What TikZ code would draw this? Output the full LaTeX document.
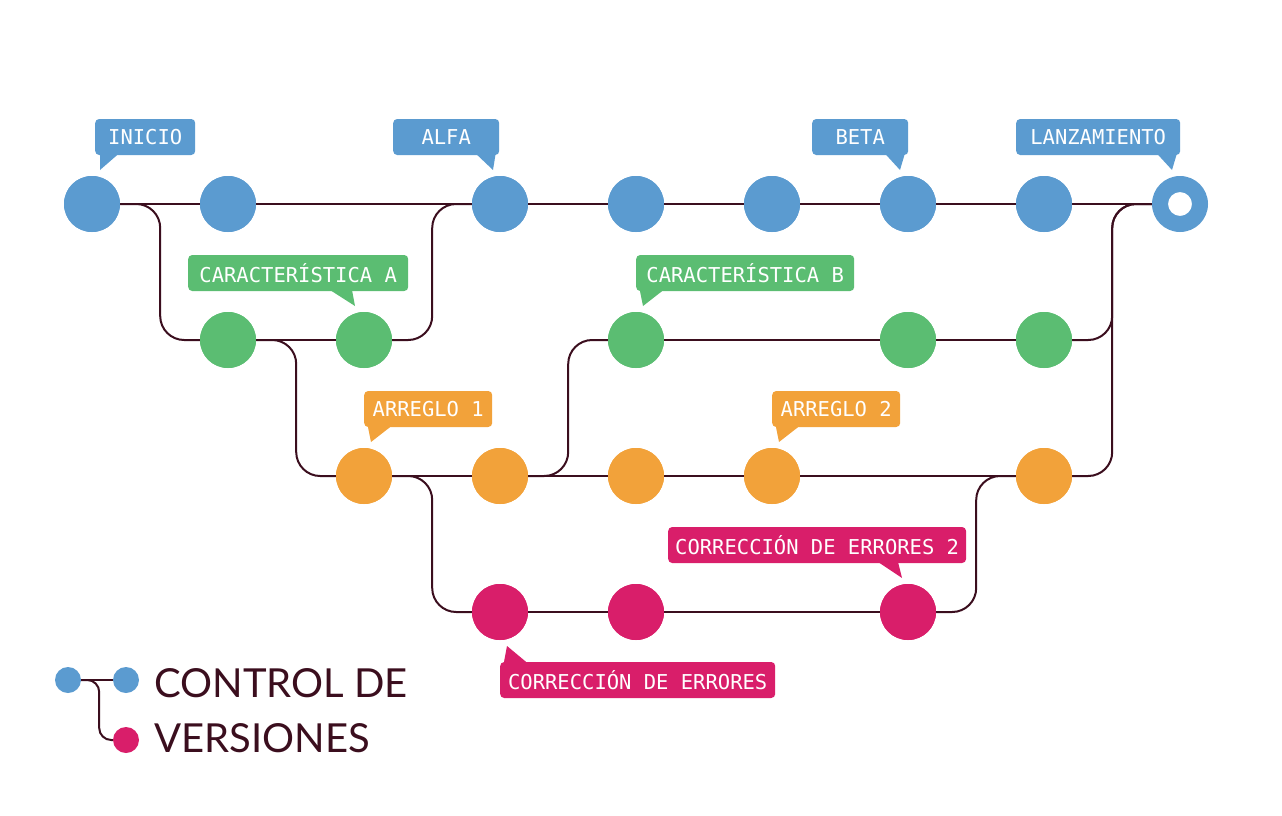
\documentclass[tikz,border=0pt]{standalone}
\usepackage{fontspec}
\newfontfamily\lab{DejaVu Sans Mono}
\newfontfamily\ttl{Lato}
\definecolor{cb}{HTML}{5B9BD0}
\definecolor{cg}{HTML}{5BBD72}
\definecolor{co}{HTML}{F2A23A}
\definecolor{cp}{HTML}{D91E6A}
\definecolor{ln}{HTML}{3B0E1E}
\begin{document}
\begin{tikzpicture}[x=1pt,y=-1pt,
  dot/.style={circle,minimum size=56pt,inner sep=0pt},
  link/.style={draw=ln,line width=2pt,rounded corners=24pt},
  tag/.style={rounded corners=4pt,inner xsep=7pt,minimum height=36pt,text=white,font=\lab\fontsize{20.5}{22}\selectfont,anchor=west}]
\useasboundingbox (0,0) rectangle (1282,816);
% nodes
\foreach \n/\x in {b1/92,b2/228,b3/500,b4/636,b5/772,b6/908,b7/1044}
  \node[dot,fill=cb] (\n) at (\x,204) {};
\node[dot] (b8) at (1180,204) {};
\foreach \n/\x in {g1/228,g2/364,g3/636,g4/908,g5/1044}
  \node[dot,fill=cg] (\n) at (\x,340) {};
\foreach \n/\x in {o1/364,o2/500,o3/636,o4/772,o5/1044}
  \node[dot,fill=co] (\n) at (\x,476) {};
\foreach \n/\x in {p1/500,p2/636,p3/908}
  \node[dot,fill=cp] (\n) at (\x,612) {};
% links
\draw[link] (b1.east) -- (b8.west);
\draw[link] (b1.east) -- ++(40,0) |- (g1.west);
\draw[link] (g1.east) -- (g2.west);
\draw[link] (g2.east) -- ++(40,0) |- (b3.west);
\draw[link] (g1.east) -- ++(40,0) |- (o1.west);
\draw[link] (o1.east) -- (o5.west);
\draw[link] (o2.east) -- ++(40,0) |- (g3.west);
\draw[link] (g3.east) -- (g5.west);
\draw[link] (g5.east) -- ++(40,0) |- (b8.west);
\draw[link] (o5.east) -- ++(40,0) |- (b8.west);
\draw[link] (o1.east) -- ++(40,0) |- (p1.west);
\draw[link] (p1.east) -- (p3.west);
\draw[link] (p3.east) -- ++(40,0) |- (o5.west);
% redraw dots over lines
\foreach \n in {b1,b2,b3,b4,b5,b6,b7} \fill[cb] (\n) circle (28);
\fill[cb,even odd rule] (b8.center) circle (28) (b8.center) circle (12);
\foreach \n in {g1,g2,g3,g4,g5} \fill[cg] (\n) circle (28);
\foreach \n in {o1,o2,o3,o4,o5} \fill[co] (\n) circle (28);
\foreach \n in {p1,p2,p3} \fill[cp] (\n) circle (28);
% tags
\node[tag,fill=cb,minimum width=100pt] (tA) at (95,137) {INICIO};
\fill[cb] ([xshift=5pt]tA.south west) -- ([xshift=22pt]tA.south west) -- (100,170) -- cycle;
\node[tag,fill=cb,minimum width=106pt] (tB) at (393,137) {ALFA};
\fill[cb] ([xshift=-22pt]tB.south east) -- ([xshift=-4pt]tB.south east) -- (493,170) -- cycle;
\node[tag,fill=cb,minimum width=96pt] (tC) at (812,137) {BETA};
\fill[cb] ([xshift=-22pt]tC.south east) -- ([xshift=-4pt]tC.south east) -- (900,170) -- cycle;
\node[tag,fill=cb,minimum width=164pt] (tD) at (1016,137) {LANZAMIENTO};
\fill[cb] ([xshift=-22pt]tD.south east) -- ([xshift=-4pt]tD.south east) -- (1172,170) -- cycle;
\node[tag,fill=cg,minimum width=220pt] (tE) at (188,273) {CARACTERÍSTICA A};
\fill[cg] (330,290) -- (352,290) -- (355,306) -- cycle;
\node[tag,fill=cg,minimum width=218pt] (tF) at (636,273) {CARACTERÍSTICA B};
\fill[cg] ([xshift=4pt]tF.south west) -- ([xshift=26pt]tF.south west) -- (643,306) -- cycle;
\node[tag,fill=co,minimum width=128pt] (tG) at (364,409) {ARREGLO 1};
\fill[co] ([xshift=4pt]tG.south west) -- ([xshift=26pt]tG.south west) -- (371,442) -- cycle;
\node[tag,fill=co,minimum width=128pt] (tH) at (772,409) {ARREGLO 2};
\fill[co] ([xshift=4pt]tH.south west) -- ([xshift=26pt]tH.south west) -- (779,442) -- cycle;
\node[tag,fill=cp,minimum width=297pt] (tI) at (668,545) {CORRECCIÓN DE ERRORES 2};
\fill[cp] (878,562) -- (898,562) -- (902,578) -- cycle;
\node[tag,fill=cp,minimum width=275pt] (tJ) at (500,680) {CORRECCIÓN DE ERRORES};
\fill[cp] ([xshift=4pt]tJ.north west) -- ([xshift=26pt]tJ.north west) -- (507,646) -- cycle;
% legend
\node[circle,fill=cb,minimum size=26pt,inner sep=0pt] (l1) at (68,680) {};
\node[circle,fill=cb,minimum size=26pt,inner sep=0pt] (l2) at (126,680) {};
\node[circle,fill=cp,minimum size=26pt,inner sep=0pt] (l3) at (126,740) {};
\draw[link,rounded corners=12pt] (l1.east) -- (l2.west);
\draw[link,rounded corners=12pt] (l1.east) -- ++(18,0) |- (l3.west);
\node[anchor=west,text=ln,font=\ttl\fontsize{40}{46}\selectfont,inner sep=0pt] (tt1) at (154,683) {CONTROL DE};
\node[anchor=west,text=ln,font=\ttl\fontsize{40}{46}\selectfont,inner sep=0pt] (tt2) at (154,738) {VERSIONES};
\end{tikzpicture}
\end{document}
